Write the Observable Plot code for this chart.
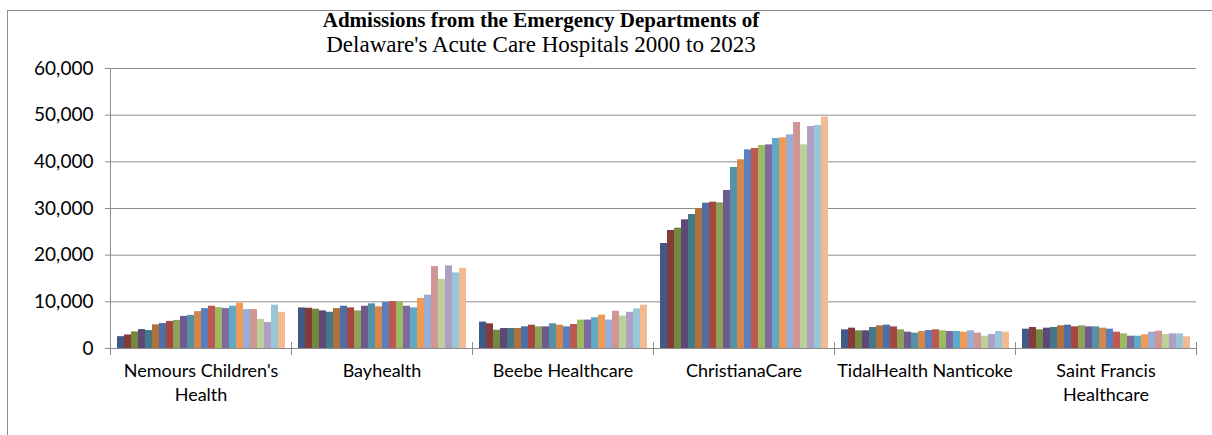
<!DOCTYPE html>
<html>
<head>
<meta charset="utf-8">
<script src="https://cdn.jsdelivr.net/npm/d3@7"></script>
<script src="https://cdn.jsdelivr.net/npm/@observablehq/plot@0.6"></script>
<style>
  html, body { margin: 0; padding: 0; background: #fff; }
  #wrap { position: relative; width: 1212px; height: 435px; overflow: hidden; }
  #border { position: absolute; left: 7px; top: 10px; width: 1220px; height: 440px; border: 1px solid #8c8c8c; box-sizing: border-box; }
  #title { position: absolute; left: 0; top: 8px; width: 1082px; text-align: center; font-family: "Liberation Serif", "Times New Roman", serif; color: #000; }
  #title .l1 { font-weight: bold; font-size: 21px; line-height: 24px; }
  #title .l2 { font-size: 23px; line-height: 25px; }
  #chart { position: absolute; left: 0; top: 0; }
</style>
</head>
<body>
<div id="wrap">
  <div id="border"></div>
  <div id="chart"></div>
  <div id="title"><div class="l1">Admissions from the Emergency Departments of</div><div class="l2">Delaware's Acute Care Hospitals 2000 to 2023</div></div>
</div>
<script>
const hospitals = ["Nemours Children's Health", "Bayhealth", "Beebe Healthcare", "ChristianaCare", "TidalHealth Nanticoke", "Saint Francis Healthcare"];
const hospitalLabels = ["Nemours Children's\nHealth", "Bayhealth", "Beebe Healthcare", "ChristianaCare", "TidalHealth Nanticoke", "Saint Francis\nHealthcare"];
const years = ["2000","2001","2002","2003","2004","2005","2006","2007","2008","2009","2010","2011","2012","2013","2014","2015","2016","2017","2018","2019","2020","2021","2022","2023"];
const yTicks = [0, 10000, 20000, 30000, 40000, 50000, 60000];

const nemours = [2540, 2900, 3550, 4060, 3840, 5070, 5360, 5800, 6010, 6880, 7100, 7900, 8550, 9060, 8770, 8550, 9060, 9710, 8330, 8330, 6230, 5580, 9280, 7750];
const bayhealth = [8700, 8630, 8420, 8060, 7770, 8560, 9060, 8700, 8060, 9060, 9570, 8920, 9860, 10070, 10000, 9060, 8700, 10720, 11440, 17550, 14820, 17700, 16190, 17190];
const beebe = [5650, 5290, 3910, 4280, 4280, 4280, 4640, 5000, 4640, 4640, 5290, 5000, 4640, 5140, 6090, 6090, 6590, 7170, 6090, 7970, 6960, 7750, 8480, 9280];
const christiana = [22500, 25290, 25790, 27570, 28710, 29930, 31140, 31360, 31210, 33860, 38790, 40430, 42570, 42860, 43500, 43640, 45000, 45140, 45790, 48430, 43640, 47570, 47790, 49570];
const tidal = [4000, 4360, 3790, 3790, 4500, 4860, 5000, 4640, 4000, 3500, 3290, 3640, 3860, 4000, 3790, 3640, 3640, 3500, 3790, 3290, 2640, 3000, 3640, 3500];
const saintFrancis = [4140, 4500, 4000, 4360, 4500, 4860, 5000, 4640, 4860, 4640, 4640, 4360, 4140, 3500, 3140, 2640, 2640, 2930, 3500, 3710, 3000, 3140, 3140, 2500];

const seriesColors = ["#3f5a87", "#853b39", "#74883f", "#5e4878", "#43788a", "#b0703a",
                      "#4e6fa6", "#a5473f", "#8fa158", "#6e5a8e", "#5591a6", "#d4874a",
                      "#5b7fbe", "#bd5752", "#9cbb5e", "#8068a0", "#5daac6", "#ef9a55",
                      "#98aed6", "#d09693", "#bdd09a", "#aea0c4", "#98c6d8", "#f3ba92"];

const allValues = [nemours, bayhealth, beebe, christiana, tidal, saintFrancis];
const data = hospitals.flatMap((h, i) => allValues[i].map((v, j) => ({hospital: h, year: years[j], value: v})));

const gray = "#8c8c8c";
const chart = Plot.plot({
  width: 1212,
  height: 435,
  marginTop: 68,
  marginBottom: 87,
  marginLeft: 108,
  marginRight: 15,
  style: {fontFamily: "Lato, 'Open Sans', sans-serif", fontSize: "16px", color: "#000", background: "transparent"},
  fx: {domain: hospitals, padding: 0, label: null, axis: null},
  x: {domain: years, paddingInner: 0, paddingOuter: 0.5, axis: null},
  y: {domain: [0, 60000], label: null},
  color: {domain: years, range: seriesColors},
  marks: [
    Plot.gridY(yTicks, {stroke: gray, strokeOpacity: 1}),
    Plot.barY(data, {fx: "hospital", x: "year", y: "value", fill: "year"}),
    Plot.axisY(yTicks, {tickSize: 5, tickPadding: 12, tickFormat: d3.format(","), stroke: gray, fontSize: 19}),
    Plot.axisFx({anchor: "bottom", tickSize: 0, tickPadding: 12, lineHeight: 1.3, fontSize: 18, label: null,
      tickFormat: (d) => hospitalLabels[hospitals.indexOf(d)]}),
    Plot.frame({anchor: "left", facetAnchor: "left", stroke: gray, insetBottom: -6}),
    Plot.frame({anchor: "left", stroke: gray, insetTop: 274, insetBottom: -6}),
    Plot.frame({anchor: "right", facetAnchor: "right", stroke: gray, insetTop: 274, insetBottom: -6})
  ]
});
document.getElementById("chart").appendChild(chart);
</script>
</body>
</html>
